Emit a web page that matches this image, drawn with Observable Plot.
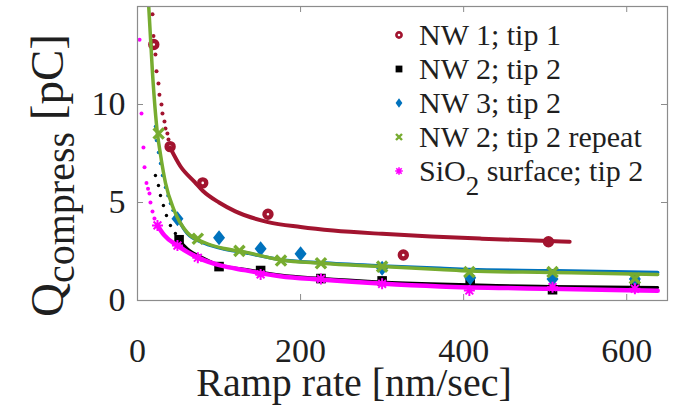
<!DOCTYPE html>
<html><head><meta charset="utf-8">
<script src="https://cdn.jsdelivr.net/npm/d3@7"></script>
<script src="https://cdn.jsdelivr.net/npm/@observablehq/plot@0.6"></script>
<style>body{margin:0;background:#fff}svg{display:block}</style>
</head><body><div id="chart"></div>
<script>
// ---- tick values ----
const xTicks = [0, 200, 400, 600];
const yTicks = [0, 5, 10];

// ---- series labels ----
const labels = ["NW 1; tip 1", "NW 2; tip 2", "NW 3; tip 2", "NW 2; tip 2 repeat", "SiO2 surface; tip 2"];

// ---- measured points ----
const nw1X = [20, 40, 80, 160, 326, 504];
const nw1Y = [13.06, 7.85, 6.0, 4.4, 2.32, 3.0];
const nw2X = [51, 100, 151, 225, 300, 408, 509, 610];
const nw2Y = [3.1, 1.73, 1.53, 1.12, 1.0, 0.93, 0.55, 0.85];
const nw3X = [49, 100, 151, 200, 300, 408, 509, 610];
const nw3Y = [4.17, 3.2, 2.64, 2.38, 1.65, 1.16, 1.1, 1.1];
const repX = [26, 74, 125, 176, 225, 300, 407, 509, 610];
const repY = [8.52, 3.15, 2.53, 2.04, 1.9, 1.73, 1.45, 1.45, 1.12];
const sioX = [24.5, 49, 74, 151, 225, 300, 407, 509, 610];
const sioY = [3.83, 2.8, 2.18, 1.33, 1.1, 0.85, 0.51, 0.68, 0.6];

// ---- fit curves (solid) ----
const fit1X = [40, 52.6, 70, 80, 100, 120, 160, 200, 240, 300, 360, 420, 504, 530];
const fit1Y = [7.8, 6.85, 6.05, 5.6, 5.0, 4.55, 4.0, 3.75, 3.57, 3.4, 3.27, 3.16, 3.03, 3.0];
const fit2X = [49, 61, 82, 101.6, 131, 175, 224, 297.5, 371, 440, 506, 638];
const fit2Y = [3.16, 2.65, 2.14, 1.79, 1.6, 1.3, 1.13, 0.95, 0.84, 0.77, 0.72, 0.66];
const fit3X = [49, 61, 82, 106.5, 128, 176, 225, 300, 371, 407, 506, 638];
const fit3Y = [4.2, 3.42, 2.92, 2.62, 2.47, 2.08, 1.92, 1.76, 1.64, 1.58, 1.52, 1.43];
const fit4X = [13.5, 18.4, 24.5, 28, 34.3, 45, 61, 82, 106.5, 128, 176, 225, 300, 371, 407, 506, 638];
const fit4Y = [15.2, 11.6, 8.5, 7.5, 6.0, 4.6, 3.47, 2.96, 2.65, 2.5, 2.07, 1.9, 1.73, 1.58, 1.5, 1.43, 1.33];
const fit5X = [24.5, 33, 49, 73.5, 101.6, 131, 175, 224, 297.5, 371, 506, 638];
const fit5Y = [3.83, 3.32, 2.8, 2.2, 1.79, 1.55, 1.24, 1.07, 0.87, 0.72, 0.6, 0.5];

// ---- extrapolated fit (dotted) ----
const dot1X = [18.4, 19.6, 22.0, 23.3, 25.7, 26.9, 29.4, 30.6, 33.1, 34.3, 36.7, 38.0];
const dot1Y = [14.6, 13.5, 12.55, 11.7, 11.07, 10.5, 10.0, 9.54, 9.13, 8.78, 8.52, 8.21];
const dot2X = [22, 25.7, 28.2, 31.8, 35.5, 40.4, 46.5];
const dot2Y = [6.38, 5.87, 5.36, 4.85, 4.34, 3.83, 3.42];
const dot3X = [22, 23.3, 25.7, 28.2, 30.6, 34.3, 37.3, 40.4, 43.5, 46.5];
const dot3Y = [8.88, 8.16, 7.55, 6.99, 6.38, 5.77, 5.35, 4.95, 4.6, 4.23];
const dot5X = [2.5, 4.9, 7.3, 8.6, 11, 12.9, 14.7, 15.9, 18.4, 20.8];
const dot5Y = [13.3, 9.54, 7.8, 6.8, 6.0, 5.7, 5.46, 5.0, 4.54, 4.18];

const colors = ["#A2142F", "#000000", "#0072BD", "#77AC30", "#FF00FF"];

const pts = (xs, ys) => xs.map((x, i) => ({x, y: ys[i]}));

const diamondSym = {draw(c) { c.moveTo(0, -7.5); c.lineTo(6, 0); c.lineTo(0, 7.5); c.lineTo(-6, 0); c.closePath(); }};
const starSym = {draw(c) { const r = 5.5, d = r * 0.707;
  c.moveTo(0, -r); c.lineTo(0, r); c.moveTo(-r, 0); c.lineTo(r, 0);
  c.moveTo(-d, -d); c.lineTo(d, d); c.moveTo(-d, d); c.lineTo(d, -d); }};

const frameGray = "#8c8c8c";
const textCol = "#1f1f1f";
const FONT = "Liberation Serif";

const plot = Plot.plot({
  width: 677, height: 418,
  marginLeft: 137, marginRight: 10, marginTop: 6, marginBottom: 118,
  x: {domain: [0, 650]},
  y: {domain: [0, 15]},
  style: {fontFamily: FONT, background: "white"},
  marks: [
    Plot.axisX(xTicks, {tickSize: 0, tickPadding: 37, fontSize: 34, fill: textCol, label: null}),
    Plot.axisY(yTicks, {tickSize: 0, tickPadding: 12, fontSize: 34, fill: textCol, label: null}),
    // series 1
    Plot.dot(pts(dot1X, dot1Y), {x: "x", y: "y", r: 2, fill: colors[0], clip: true}),
    Plot.line(pts(fit1X, fit1Y), {x: "x", y: "y", stroke: colors[0], strokeWidth: 4, curve: "monotone-x", clip: true}),
    Plot.dot(pts(nw1X, nw1Y), {x: "x", y: "y", r: 3.5, stroke: colors[0], strokeWidth: 4.4, fill: "none"}),
    // series 2
    Plot.dot(pts(dot2X, dot2Y), {x: "x", y: "y", r: 1.7, fill: colors[1], clip: true}),
    Plot.line(pts(fit2X, fit2Y), {x: "x", y: "y", stroke: colors[1], strokeWidth: 3, curve: "monotone-x", clip: true}),
    Plot.dot(pts(nw2X, nw2Y), {x: "x", y: "y", symbol: "square", r: 5.4, fill: colors[1]}),
    // series 3
    Plot.dot(pts(dot3X, dot3Y), {x: "x", y: "y", r: 1.7, fill: colors[2], clip: true}),
    Plot.line(pts(fit3X, fit3Y), {x: "x", y: "y", stroke: colors[2], strokeWidth: 3.5, curve: "monotone-x", clip: true}),
    Plot.dot(pts(nw3X, nw3Y), {x: "x", y: "y", symbol: diamondSym, fill: colors[2]}),
    // series 4
    Plot.line(pts(fit4X, fit4Y), {x: "x", y: "y", stroke: colors[3], strokeWidth: 3.5, curve: "monotone-x", clip: true}),
    Plot.dot(pts(repX, repY), {x: "x", y: "y", symbol: "times", r: 4.7, stroke: colors[3], strokeWidth: 3.4, fill: "none"}),
    // series 5
    Plot.dot(pts(dot5X, dot5Y), {x: "x", y: "y", r: 2, fill: colors[4], clip: true}),
    Plot.line(pts(fit5X, fit5Y), {x: "x", y: "y", stroke: colors[4], strokeWidth: 4.5, curve: "monotone-x", clip: true}),
    Plot.dot(pts(sioX, sioY), {x: "x", y: "y", symbol: starSym, stroke: colors[4], strokeWidth: 2, fill: "none"}),
    // box ticks (inward)
    Plot.tickX(xTicks, {x: d => d, insetTop: 288, stroke: frameGray}),
    Plot.tickX(xTicks, {x: d => d, insetBottom: 288, stroke: frameGray}),
    Plot.tickY(yTicks, {y: d => d, insetRight: 524, stroke: frameGray}),
    Plot.tickY(yTicks, {y: d => d, insetLeft: 524, stroke: frameGray}),
    Plot.frame({stroke: frameGray, strokeWidth: 1.2})
  ]
});
document.getElementById("chart").appendChild(plot);

const svg = d3.select(plot);
svg.attr("font-family", FONT);

// x axis title
svg.append("text")
  .attr("x", 354).attr("y", 396)
  .attr("text-anchor", "middle")
  .attr("font-size", 40).attr("fill", textCol)
  .text("Ramp rate [nm/sec]");

// y axis title with subscript
const yl = svg.append("text")
  .attr("transform", "translate(63,317) rotate(-90)")
  .attr("text-anchor", "start")
  .attr("fill", textCol);
yl.append("tspan").attr("font-size", 47).text("Q");
yl.append("tspan").attr("font-size", 40).attr("dy", 11).text("compress");
yl.append("tspan").attr("font-size", 47).attr("dy", -11).text(" [pC]");

// legend
const lg = svg.append("g").attr("text-anchor", "start");
labels.forEach((lab, i) => {
  const by = 45 + 34 * i, cy = by - 10, mx = 399;
  const g = lg.append("g").attr("transform", `translate(${mx},${cy})`);
  if (i === 0) {
    g.append("circle").attr("r", 2.6).attr("fill", "none").attr("stroke", colors[0]).attr("stroke-width", 2.6);
  } else if (i === 1) {
    g.append("rect").attr("x", -3.4).attr("y", -3.4).attr("width", 6.8).attr("height", 6.8).attr("fill", colors[1]);
  } else if (i === 2) {
    g.append("path").attr("d", "M0,-4.8L3.4,0L0,4.8L-3.4,0Z").attr("fill", colors[2]);
  } else if (i === 3) {
    g.append("path").attr("d", "M-3,-3L3,3M-3,3L3,-3").attr("stroke", colors[3]).attr("stroke-width", 2.4);
  } else {
    g.append("path").attr("d", "M0,-3.8L0,3.8M-3.8,0L3.8,0M-2.7,-2.7L2.7,2.7M-2.7,2.7L2.7,-2.7").attr("stroke", colors[4]).attr("stroke-width", 1.6);
  }
  const t = lg.append("text").attr("x", 419).attr("y", by).attr("text-anchor", "start")
    .attr("font-size", 30).attr("fill", textCol);
  if (i === 4) {
    t.append("tspan").text("SiO");
    t.append("tspan").attr("dy", 14).attr("font-size", 27).text("2");
    t.append("tspan").attr("dy", -14).text(" surface; tip 2");
  } else {
    t.text(lab);
  }
});

// force the serif face on every text node
svg.selectAll("text, tspan").attr("font-family", FONT).style("font-family", FONT);
</script>
</body></html>
